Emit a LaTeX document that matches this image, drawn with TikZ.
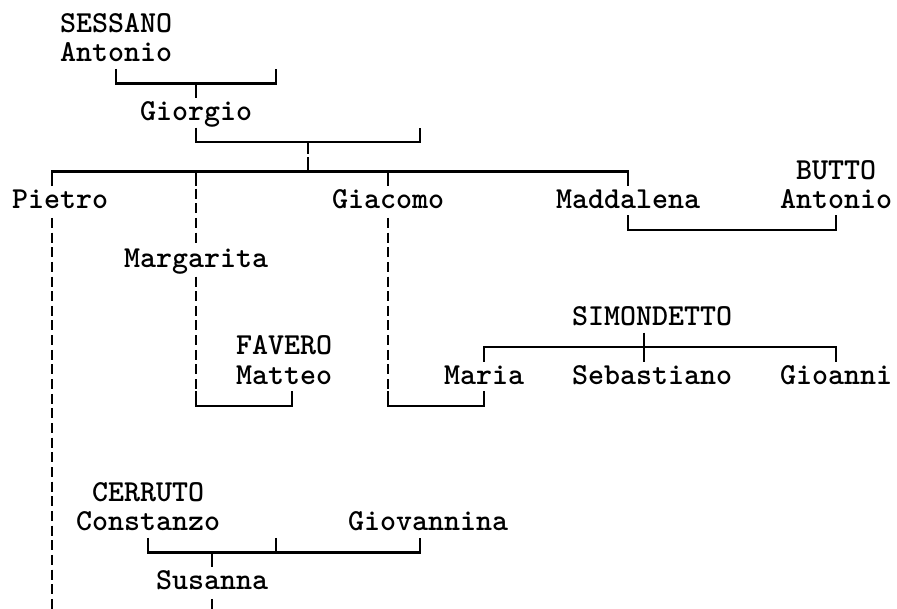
\documentclass[tikz,border=0pt]{standalone}
\usepackage{tikz}
\pgfdeclarelayer{nodelayer}
\pgfdeclarelayer{edgelayer}
\pgfsetlayers{edgelayer,nodelayer,main}
\tikzstyle{person}=[font=\ttfamily\bfseries\fontsize{30.48}{36}\selectfont, inner sep=0pt, anchor=base west]
\tikzstyle{junction}=[inner sep=0pt, minimum size=0pt]
\tikzstyle{solid edge}=[line width=2.2pt]
\tikzstyle{dashed edge}=[line width=2pt, dash pattern=on 10pt off 4.65pt, dash phase=12.15pt]

\begin{document}
\begin{tikzpicture}[x=16pt, y=-29.3pt]
	\useasboundingbox (-1.25, -0.8532) rectangle (54.8125, 19.9317);
	\begin{pgfonlayer}{nodelayer}
		\node [style=person] (sessano) at (2.5, 0.26) {SESSANO};
		\node [style=person] (antonio) at (2.5, 1.26) {Antonio};
		\node [style=person] (giorgio) at (7.5, 3.26) {Giorgio};
		\node [style=person] (pietro) at (-0.5, 6.26) {Pietro};
		\node [style=person] (giacomo) at (19.5, 6.26) {Giacomo};
		\node [style=person] (maddalena) at (33.5, 6.26) {Maddalena};
		\node [style=person] (butto) at (48.5, 5.26) {BUTTO};
		\node [style=person] (antoniob) at (47.5, 6.26) {Antonio};
		\node [style=person] (margarita) at (6.5, 8.26) {Margarita};
		\node [style=person] (simondetto) at (34.5, 10.26) {SIMONDETTO};
		\node [style=person] (favero) at (13.5, 11.26) {FAVERO};
		\node [style=person] (matteo) at (13.5, 12.26) {Matteo};
		\node [style=person] (maria) at (26.5, 12.26) {Maria};
		\node [style=person] (sebastiano) at (34.5, 12.26) {Sebastiano};
		\node [style=person] (gioanni) at (47.5, 12.26) {Gioanni};
		\node [style=person] (cerruto) at (4.5, 16.26) {CERRUTO};
		\node [style=person] (constanzo) at (3.5, 17.26) {Constanzo};
		\node [style=person] (giovannina) at (20.5, 17.26) {Giovannina};
		\node [style=person] (susanna) at (8.5, 19.26) {Susanna};
		% bends of the lines
		\node [style=junction] (0) at (6, 1.5) {};
		\node [style=junction] (1) at (11, 2) {};
		\node [style=junction] (2) at (16, 1.5) {};
		\node [style=junction] (3) at (11, 2.5) {};
		\node [style=junction] (4) at (11, 3.5) {};
		\node [style=junction] (5) at (18, 4) {};
		\node [style=junction] (6) at (25, 3.5) {};
		\node [style=junction] (7) at (18, 4.4) {};
		\node [style=junction] (8) at (18, 4.5) {};
		\node [style=junction] (9) at (18, 5) {};
		\node [style=junction] (10) at (2, 5.5) {};
		\node [style=junction] (11) at (38, 5.5) {};
		\node [style=junction] (12) at (11, 5.5) {};
		\node [style=junction] (13) at (23, 5.5) {};
		\node [style=junction] (14) at (38, 6.5) {};
		\node [style=junction] (15) at (51, 7) {};
		\node [style=junction] (16) at (51, 6.5) {};
		\node [style=junction] (17) at (29, 11.5) {};
		\node [style=junction] (18) at (39, 11) {};
		\node [style=junction] (19) at (51, 11.5) {};
		\node [style=junction] (20) at (39, 10.5) {};
		\node [style=junction] (21) at (39, 11.5) {};
		\node [style=junction] (22) at (11, 12.5) {};
		\node [style=junction] (23) at (17, 13) {};
		\node [style=junction] (24) at (17, 12.5) {};
		\node [style=junction] (25) at (23, 12.5) {};
		\node [style=junction] (26) at (29, 13) {};
		\node [style=junction] (27) at (29, 12.5) {};
		\node [style=junction] (28) at (8, 17.5) {};
		\node [style=junction] (29) at (12, 18) {};
		\node [style=junction] (30) at (25, 17.5) {};
		\node [style=junction] (31) at (12, 18.5) {};
		\node [style=junction] (32) at (16, 17.5) {};
		\node [style=junction] (33) at (2, 6.5) {};
		\node [style=junction] (34) at (2, 19.9317) {};
		\node [style=junction] (35) at (11, 7.5) {};
		\node [style=junction] (36) at (11, 8.5) {};
		\node [style=junction] (37) at (23, 6.5) {};
		\node [style=junction] (38) at (12, 19.5) {};
		\node [style=junction] (39) at (12, 19.9317) {};
	\end{pgfonlayer}
	\begin{pgfonlayer}{edgelayer}
		\draw [style=solid edge] (0.center) |- (1.center) -| (2.center);
		\draw [style=solid edge] (1.center) to (3.center);
		\draw [style=solid edge] (4.center) |- (5.center) -| (6.center);
		\draw [style=solid edge] (5.center) to (7.center);
		\draw [style=solid edge] (10.center) |- (9.center) -| (11.center);
		\draw [style=solid edge] (8.center) to (9.center);
		\draw [style=solid edge] (12.center |- 9.center) to (12.center);
		\draw [style=solid edge] (13.center |- 9.center) to (13.center);
		\draw [style=solid edge] (14.center) |- (15.center) to (16.center);
		\draw [style=solid edge] (17.center) |- (18.center) -| (19.center);
		\draw [style=solid edge] (20.center) to (21.center);
		\draw [style=solid edge] (22.center) |- (23.center) to (24.center);
		\draw [style=solid edge] (25.center) |- (26.center) to (27.center);
		\draw [style=solid edge] (28.center) |- (29.center) -| (30.center);
		\draw [style=solid edge] (29.center) to (31.center);
		\draw [style=solid edge] (32.center) to (32.center |- 29.center);
		% lines of descent
		\draw [style=dashed edge] (33.center) to (34.center);
		\draw [style=dashed edge] (12.center) to (35.center);
		\draw [style=dashed edge] (36.center) to (22.center);
		\draw [style=dashed edge] (37.center) to (25.center);
		\draw [style=dashed edge] (38.center) to (39.center);
	\end{pgfonlayer}
\end{tikzpicture}
\end{document}
